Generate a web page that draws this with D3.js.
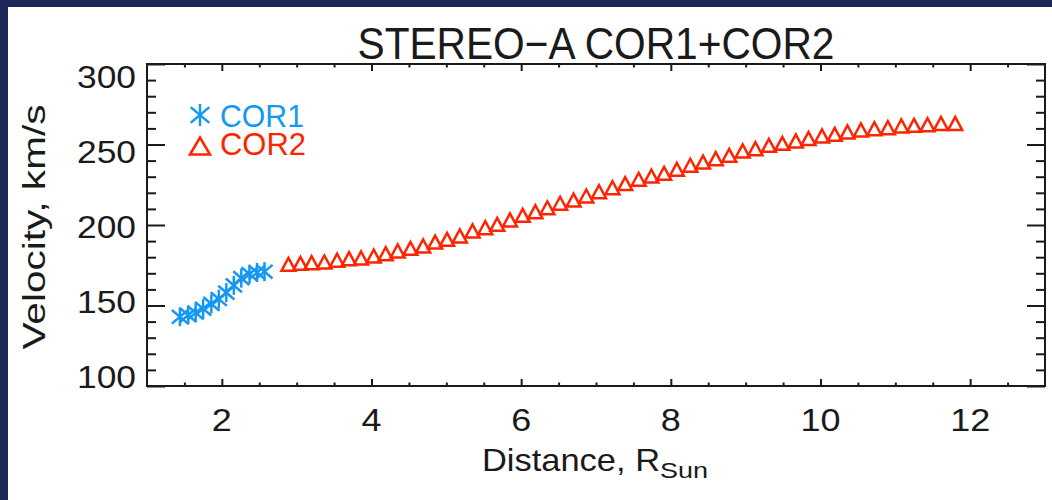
<!DOCTYPE html>
<html>
<head>
<meta charset="utf-8">
<script src="https://cdn.jsdelivr.net/npm/d3@7"></script>
<style>
  body { margin: 0; background: #1b2756; }
  text { font-family: "Liberation Sans", Arial, sans-serif; }
</style>
</head>
<body>
<svg class="chart"></svg>
<script>
const width = 1052;
const height = 500;

// COR1 (asterisks)
const cor1Dist = [1.44, 1.55, 1.65, 1.75, 1.86, 1.96, 2.06, 2.16, 2.26, 2.37, 2.47, 2.57];
const cor1Vel  = [143, 144, 145.5, 148, 151, 154, 158, 162.5, 167, 169.5, 170.5, 171];

// COR2 (triangles)
const cor2Dist = [2.89, 3.05, 3.20, 3.37, 3.54, 3.70, 3.86, 4.03, 4.19, 4.35, 4.52, 4.69,
  4.85, 5.01, 5.18, 5.35, 5.52, 5.68, 5.85, 6.02, 6.19, 6.35, 6.52, 6.70, 6.87, 7.04,
  7.22, 7.39, 7.57, 7.74, 7.91, 8.08, 8.26, 8.43, 8.60, 8.78, 8.96, 9.13, 9.31, 9.49,
  9.67, 9.84, 10.02, 10.19, 10.36, 10.54, 10.72, 10.90, 11.08, 11.25, 11.43, 11.61, 11.80];
const cor2Vel  = [175.6, 176.2, 176.6, 177.0, 178.1, 179.1, 179.5, 180.7, 182.2, 183.9, 185.5, 187.0,
  189.4, 191.1, 193.2, 196.3, 198.3, 200.4, 203.1, 206.0, 208.3, 210.7, 213.5, 215.5, 218.0, 220.7,
  223.2, 225.7, 228.4, 230.4, 232.1, 234.6, 237.1, 239.1, 241.2, 243.3, 246.0, 247.4, 249.5, 250.7,
  252.2, 253.8, 255.3, 256.3, 257.8, 259.0, 259.8, 260.4, 261.5, 261.9, 262.3, 263.1, 263.1];

const xTicks = [2, 4, 6, 8, 10, 12];
const yTicks = [100, 150, 200, 250, 300];
const xLabels = ["2", "4", "6", "8", "10", "12"];
const yLabels = ["100", "150", "200", "250", "300"];

const blue = "#1598f4";
const red = "#ff2400";
const ink = "#1a1a1a";

const svg = d3.select('.chart').attr('width', width).attr('height', height);

// navy frame + white panel
svg.append('rect').attr('width', width).attr('height', height).attr('fill', '#1c2958');
svg.append('rect').attr('x', 8).attr('y', 7).attr('width', width - 8).attr('height', height - 7)
  .attr('fill', '#ffffff');

const plotL = 147, plotR = 1045, plotT = 64, plotB = 386;
const x = d3.scaleLinear().domain([1, 13]).range([plotL, plotR]);
const y = d3.scaleLinear().domain([100, 300]).range([plotB, plotT]);
// tick labels sit a little tighter than the ticks in the original
const yLab = d3.scaleLinear().domain([100, 300]).range([376, 76]);

const xMinor = d3.range(1.5, 13, 0.5).filter(v => v % 2 !== 0);
const yMinor = d3.range(110, 300, 10).filter(v => v % 50 !== 0);

function tickAxis(axis, tx, ty) {
  const g = svg.append('g').attr('transform', `translate(${tx},${ty})`).call(axis);
  g.select('.domain').remove();
  g.selectAll('line').attr('stroke', ink).attr('stroke-width', 2);
  g.selectAll('text').remove();
  return g;
}

tickAxis(d3.axisBottom(x).tickValues(xTicks).tickSize(-7), 0, plotB);
tickAxis(d3.axisBottom(x).tickValues(xMinor).tickSize(-3.5), 0, plotB);
tickAxis(d3.axisTop(x).tickValues(xTicks).tickSize(-7), 0, plotT);
tickAxis(d3.axisTop(x).tickValues(xMinor).tickSize(-3.5), 0, plotT);
tickAxis(d3.axisLeft(y).tickValues(yTicks).tickSize(-18), plotL, 0);
tickAxis(d3.axisLeft(y).tickValues(yMinor).tickSize(-9), plotL, 0);
tickAxis(d3.axisRight(y).tickValues(yTicks).tickSize(-18), plotR, 0);
tickAxis(d3.axisRight(y).tickValues(yMinor).tickSize(-9), plotR, 0);

svg.append('rect')
  .attr('x', plotL).attr('y', plotT)
  .attr('width', plotR - plotL).attr('height', plotB - plotT)
  .attr('fill', 'none').attr('stroke', ink).attr('stroke-width', 2);

// tick labels (Hershey glyphs are wider than Liberation's, so stretch them a little)
svg.append('g').selectAll('text').data(xTicks).enter().append('text')
  .attr('x', d => x(d)).attr('y', 431)
  .attr('text-anchor', 'middle').attr('font-size', 32).attr('fill', ink)
  .attr('textLength', (d, i) => 20 * xLabels[i].length)
  .attr('lengthAdjust', 'spacingAndGlyphs')
  .text((d, i) => xLabels[i]);

svg.append('g').selectAll('text').data(yTicks).enter().append('text')
  .attr('x', 136).attr('y', d => yLab(d))
  .attr('dy', '0.36em')
  .attr('text-anchor', 'end').attr('font-size', 32).attr('fill', ink)
  .attr('textLength', 59).attr('lengthAdjust', 'spacingAndGlyphs')
  .text((d, i) => yLabels[i]);

// titles
svg.append('text')
  .attr('x', (plotL + plotR) / 2).attr('y', 59)
  .attr('text-anchor', 'middle').attr('font-size', 44).attr('fill', ink)
  .attr('textLength', 477).attr('lengthAdjust', 'spacingAndGlyphs')
  .text('STEREO\u2212A COR1+COR2');

const xt = svg.append('text')
  .attr('x', 482).attr('y', 471)
  .attr('font-size', 32).attr('fill', ink);
xt.append('tspan').attr('textLength', 178).attr('lengthAdjust', 'spacingAndGlyphs').text('Distance, R');
xt.append('tspan').attr('font-size', 22).attr('dy', 7)
  .attr('textLength', 48).attr('lengthAdjust', 'spacingAndGlyphs').text('Sun');

svg.append('text')
  .attr('transform', 'translate(45,227) rotate(-90)')
  .attr('text-anchor', 'middle').attr('font-size', 32).attr('fill', ink)
  .attr('textLength', 245).attr('lengthAdjust', 'spacingAndGlyphs')
  .text('Velocity, km/s');

// markers
function asterisk(g, r) {
  const segs = [[0, r], [r * 0.85, r * 0.72], [r * 0.85, -r * 0.72]];
  segs.forEach(([dx, dy]) => {
    g.append('line').attr('x1', -dx).attr('y1', -dy).attr('x2', dx).attr('y2', dy);
  });
}
const tri = (w, h) => `M${-w},${h}L0,${-h}L${w},${h}Z`;

const cor1 = svg.append('g').attr('stroke', blue).attr('stroke-width', 2.5);
cor1Dist.forEach((d, i) => {
  const g = cor1.append('g').attr('transform', `translate(${x(d)},${y(cor1Vel[i])})`);
  asterisk(g, 9.5);
});

svg.append('g').selectAll('path').data(cor2Dist).enter().append('path')
  .attr('transform', (d, i) => `translate(${x(d)},${y(cor2Vel[i])})`)
  .attr('d', tri(7, 6.5))
  .attr('fill', 'none').attr('stroke', red).attr('stroke-width', 2.5);

// legend
const leg1 = svg.append('g').attr('stroke', blue).attr('stroke-width', 2.5)
  .attr('transform', 'translate(200,115)');
asterisk(leg1, 11);
svg.append('text').attr('x', 220).attr('y', 127).attr('font-size', 32)
  .attr('textLength', 84).attr('lengthAdjust', 'spacingAndGlyphs')
  .attr('fill', blue).text('COR1');

svg.append('path').attr('transform', 'translate(200,146)').attr('d', tri(10, 8.5))
  .attr('fill', 'none').attr('stroke', red).attr('stroke-width', 2.5);
svg.append('text').attr('x', 220).attr('y', 155).attr('font-size', 32)
  .attr('textLength', 86).attr('lengthAdjust', 'spacingAndGlyphs')
  .attr('fill', red).text('COR2');
</script>
</body>
</html>
